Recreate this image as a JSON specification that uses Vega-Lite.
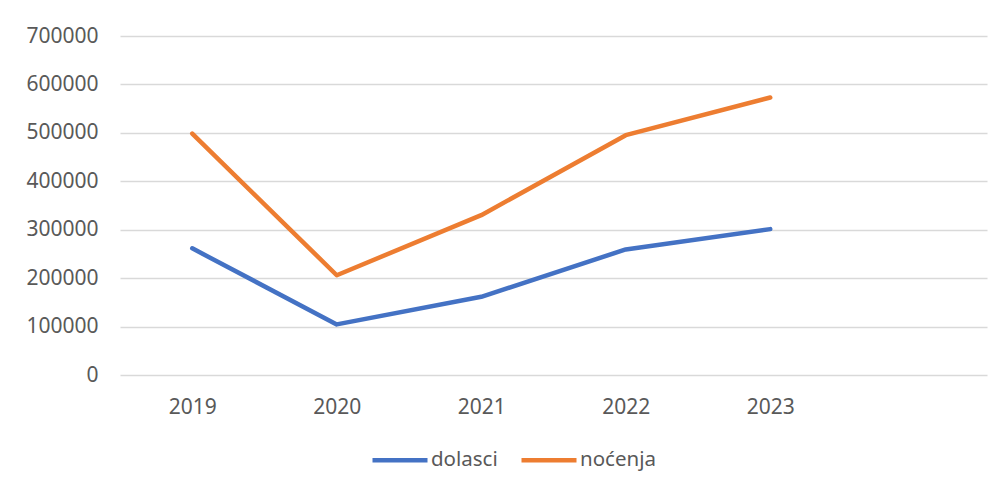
{
  "$schema": "https://vega.github.io/schema/vega-lite/v6.json",
  "autosize": {"type": "none"},
  "width": 867,
  "height": 339,
  "padding": {"left": 120, "top": 36, "right": 17, "bottom": 118},
  "background": "white",
  "config": {
    "view": {"stroke": null},
    "font": "Noto Sans",
    "axis": {"labelFont": "Noto Sans", "labelFontSize": 21, "labelColor": "#595959"},
    "legend": {"labelFont": "Noto Sans", "labelFontSize": 20.5, "labelColor": "#595959"}
  },
  "data": {
    "values": [
      {"year": 2019, "series": "dolasci", "value": 261500},
      {"year": 2020, "series": "dolasci", "value": 104500},
      {"year": 2021, "series": "dolasci", "value": 161500},
      {"year": 2022, "series": "dolasci", "value": 259300},
      {"year": 2023, "series": "dolasci", "value": 301200},
      {"year": 2019, "series": "noćenja", "value": 498600},
      {"year": 2020, "series": "noćenja", "value": 206000},
      {"year": 2021, "series": "noćenja", "value": 330000},
      {"year": 2022, "series": "noćenja", "value": 495200},
      {"year": 2023, "series": "noćenja", "value": 573000}
    ]
  },
  "mark": {"type": "line", "strokeWidth": 4.5, "strokeCap": "round", "strokeJoin": "round"},
  "encoding": {
    "x": {
      "field": "year",
      "type": "quantitative",
      "scale": {"domain": [2018.5, 2024.5], "nice": false, "zero": false},
      "axis": {
        "title": null,
        "values": [2019, 2020, 2021, 2022, 2023],
        "format": "d",
        "grid": false,
        "domain": false,
        "ticks": false,
        "labelPadding": 21
      }
    },
    "y": {
      "field": "value",
      "type": "quantitative",
      "scale": {"domain": [0, 700000], "nice": false},
      "axis": {
        "title": null,
        "values": [0, 100000, 200000, 300000, 400000, 500000, 600000, 700000],
        "format": "d",
        "grid": true,
        "gridColor": "#D9D9D9",
        "gridWidth": 1.5,
        "domain": false,
        "ticks": false,
        "labelPadding": 22
      }
    },
    "color": {
      "field": "series",
      "type": "nominal",
      "scale": {"domain": ["dolasci", "noćenja"], "range": ["#4472C4", "#ED7D31"]},
      "legend": {
        "title": null,
        "orient": "none",
        "direction": "horizontal",
        "legendX": 250,
        "legendY": 394,
        "padding": 0,
        "symbolType": "stroke",
        "symbolSize": 3025,
        "symbolStrokeWidth": 4.5,
        "labelOffset": 1,
        "columnPadding": 14
      }
    }
  }
}
